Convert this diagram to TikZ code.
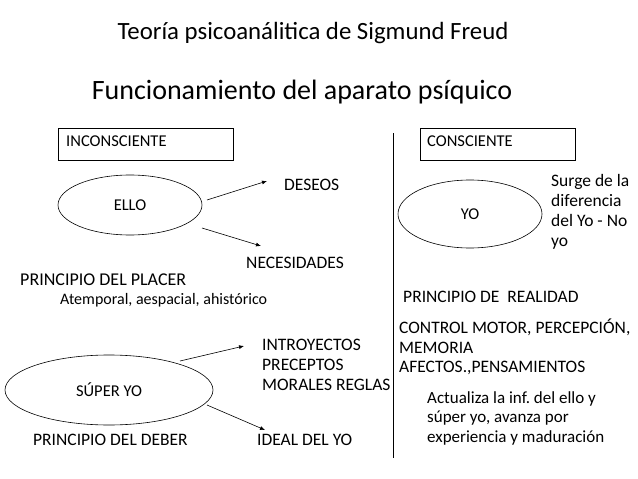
\documentclass[tikz,border=0pt]{standalone}
\usepackage{fontspec}
\setmainfont{Carlito}
\usetikzlibrary{arrows.meta,shapes.geometric}
\begin{document}
\begin{tikzpicture}[x=1pt,y=-1pt,
  lbl/.style={anchor=west,inner sep=0pt,font=\fontsize{17.5}{20}\selectfont},
  small/.style={anchor=west,inner sep=0pt,font=\fontsize{16.5}{19}\selectfont},
  oval/.style={draw,ellipse,line width=0.6pt,inner sep=0pt},
  arr/.style={-{Latex[length=5pt,width=4pt]},line width=0.6pt},
  tag/.style={draw,line width=0.6pt,anchor=north west,inner sep=0pt}]
\useasboundingbox (0,0) rectangle (638,479);
\node (t1) at (313,33) {\fontsize{24.8}{28}\selectfont Teoría psicoanálitica de Sigmund Freud};
\node (t2) at (302,92) {\fontsize{28}{32}\selectfont Funcionamiento del aparato psíquico};
% boxes
\node[tag,minimum width=175pt,minimum height=32pt] (bi) at (58,128) {};
\node[small] (ti) at (66,141) {INCONSCIENTE};
\node[tag,minimum width=155pt,minimum height=32pt] (bc) at (420,128) {};
\node[small] (tc) at (427,141) {CONSCIENTE};
% divider
\coordinate (v1) at (393,133);
\coordinate (v2) at (393,458);
\draw[line width=0.8pt] (v1) -- (v2);
% ELLO
\node[oval,minimum width=144pt,minimum height=60pt] (ello) at (130,205) {};
\node[small] at (ello.center) [anchor=center] {ELLO};
\node[lbl] (des) at (284,185) {DESEOS};
\node[lbl] (nec) at (246,263) {NECESIDADES};
\coordinate (a1s) at (207,200);
\coordinate (a1e) at (267,181);
\coordinate (a2s) at (202,228);
\coordinate (a2e) at (261,246);
\draw[arr] (a1s) -- (a1e);
\draw[arr] (a2s) -- (a2e);
\node[lbl,font=\fontsize{18}{20}\selectfont] (pp) at (20,280) {PRINCIPIO DEL PLACER};
\node[anchor=west,inner sep=0pt,font=\fontsize{16}{19}\selectfont] (at) at (60,300) {Atemporal, aespacial, ahistórico};
% YO
\node[oval,minimum width=144pt,minimum height=68pt] (yo) at (470,214) {};
\node[small] at (yo.center) [anchor=center] {YO};
\node[lbl,align=left,font=\fontsize{17.5}{20}\selectfont] (surge) at (551,212) {Surge de la\\diferencia\\del Yo - No\\yo};
\node[lbl] (pr) at (403,297) {PRINCIPIO DE \ REALIDAD};
\node[lbl,align=left,font=\fontsize{17.5}{19.5}\selectfont] (cm) at (399,347) {CONTROL MOTOR, PERCEPCIÓN,\\MEMORIA\\AFECTOS.,PENSAMIENTOS};
\node[lbl,align=left,font=\fontsize{17}{19.5}\selectfont] (act) at (427,418) {Actualiza la inf.\ del ello y\\súper yo, avanza por\\experiencia y maduración};
% SUPER YO
\node[oval,minimum width=208pt,minimum height=70pt] (sy) at (109,390) {};
\node[small] at (sy.center) [anchor=center] {SÚPER YO};
\node[lbl,align=left,font=\fontsize{17.5}{20}\selectfont] (intro) at (262,365) {INTROYECTOS\\PRECEPTOS\\MORALES REGLAS};
\coordinate (b1s) at (180,361);
\coordinate (b1e) at (244,346);
\coordinate (b2s) at (207,405);
\coordinate (b2e) at (265,430);
\draw[arr] (b1s) -- (b1e);
\draw[arr] (b2s) -- (b2e);
\node[lbl] (pd) at (33,440) {PRINCIPIO DEL DEBER};
\node[lbl] (id) at (257,440) {IDEAL DEL YO};
\end{tikzpicture}
\end{document}
